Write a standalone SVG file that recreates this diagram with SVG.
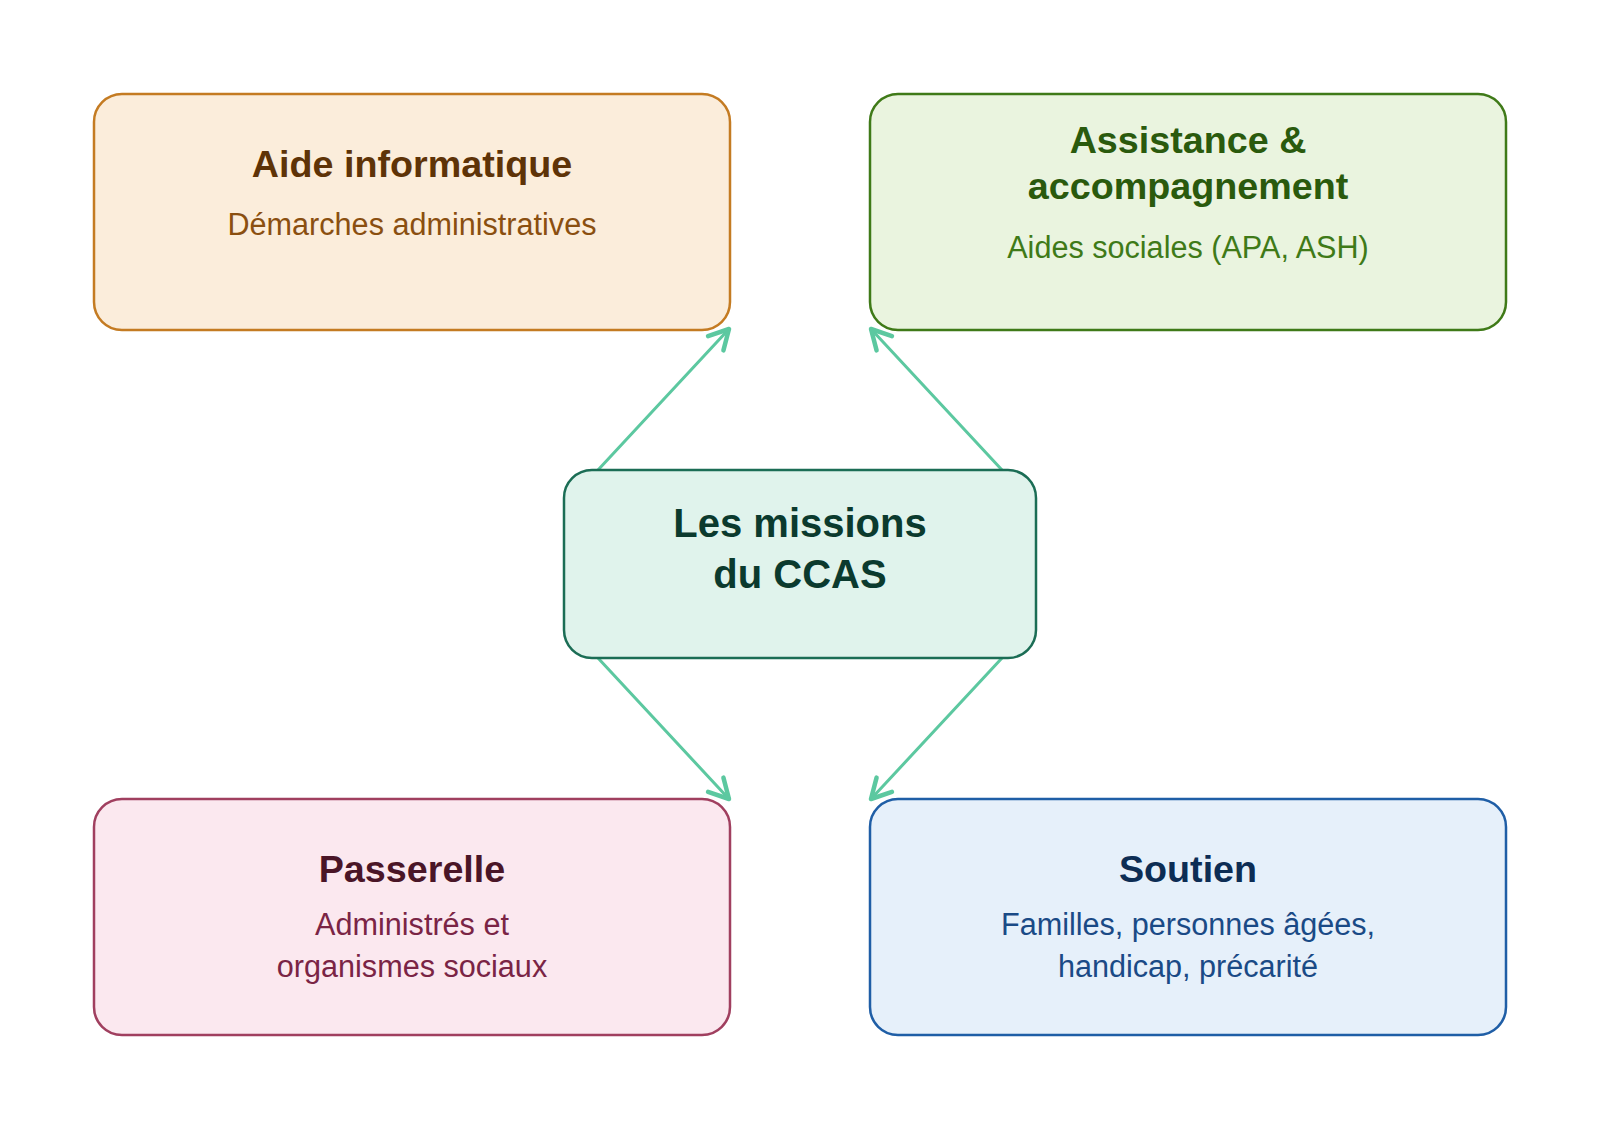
<svg xmlns="http://www.w3.org/2000/svg" width="1600" height="1129" viewBox="0 0 1600 1129">
  <defs>
    <style>
      .box { stroke-width: 2.5; }
      .title { font-family: "Liberation Sans", Arial, sans-serif; font-weight: bold; font-size: 37.7px; text-anchor: middle; }
      .sub { font-family: "Liberation Sans", Arial, sans-serif; font-size: 30.6px; text-anchor: middle; }
      .center { font-family: "Liberation Sans", Arial, sans-serif; font-weight: bold; font-size: 40px; text-anchor: middle; }
      .conn { fill: none; stroke: #5CC8A0; stroke-width: 3; stroke-linecap: round; }
    </style>
    <marker id="arrow" markerUnits="userSpaceOnUse" markerWidth="30" markerHeight="30" viewBox="-16 -10 20 20" refX="0" refY="0" orient="auto">
      <path d="M -13,-7 L 0,0 L -13,7" fill="none" stroke="#5CC8A0" stroke-width="3" stroke-linecap="round" stroke-linejoin="round"/>
    </marker>
  </defs>
  <rect width="1600" height="1129" fill="#FFFFFF"/>

  <g id="connectors">
    <line class="conn" x1="598" y1="470" x2="729" y2="329" marker-end="url(#arrow)"/>
    <line class="conn" x1="1002" y1="470" x2="871" y2="329" marker-end="url(#arrow)"/>
    <line class="conn" x1="598" y1="658" x2="729" y2="799" marker-end="url(#arrow)"/>
    <line class="conn" x1="1002" y1="658" x2="871" y2="799" marker-end="url(#arrow)"/>
  </g>

  <g id="node-aide-informatique">
    <rect class="box" x="94" y="94" width="636" height="236" rx="28" fill="#FBEDDB" stroke="#C47B22"/>
    <text class="title" x="412" y="177" fill="#5E3307">Aide informatique</text>
    <text class="sub" x="412" y="235" fill="#8A4F10">Démarches administratives</text>
  </g>

  <g id="node-assistance">
    <rect class="box" x="870" y="94" width="636" height="236" rx="28" fill="#EAF4DF" stroke="#3F7A18"/>
    <text class="title" x="1188" y="153" fill="#2A5A0D">Assistance &amp;</text>
    <text class="title" x="1188" y="199" fill="#2A5A0D">accompagnement</text>
    <text class="sub" x="1188" y="258" fill="#3F7A18">Aides sociales (APA, ASH)</text>
  </g>

  <g id="node-center">
    <rect class="box" x="564" y="470" width="472" height="188" rx="28" fill="#E0F3EC" stroke="#1B6D55"/>
    <text class="center" x="800" y="537" fill="#0B3A2E">Les missions</text>
    <text class="center" x="800" y="588" fill="#0B3A2E">du CCAS</text>
  </g>

  <g id="node-passerelle">
    <rect class="box" x="94" y="799" width="636" height="236" rx="28" fill="#FBE8EF" stroke="#A03F5F"/>
    <text class="title" x="412" y="882" fill="#4A1527">Passerelle</text>
    <text class="sub" x="412" y="935" fill="#7A2445">Administrés et</text>
    <text class="sub" x="412" y="977" fill="#7A2445">organismes sociaux</text>
  </g>

  <g id="node-soutien">
    <rect class="box" x="870" y="799" width="636" height="236" rx="28" fill="#E6F0FA" stroke="#1F5EA6"/>
    <text class="title" x="1188" y="882" fill="#0D2D54">Soutien</text>
    <text class="sub" x="1188" y="935" fill="#1A4A86">Familles, personnes âgées,</text>
    <text class="sub" x="1188" y="977" fill="#1A4A86">handicap, précarité</text>
  </g>
</svg>
